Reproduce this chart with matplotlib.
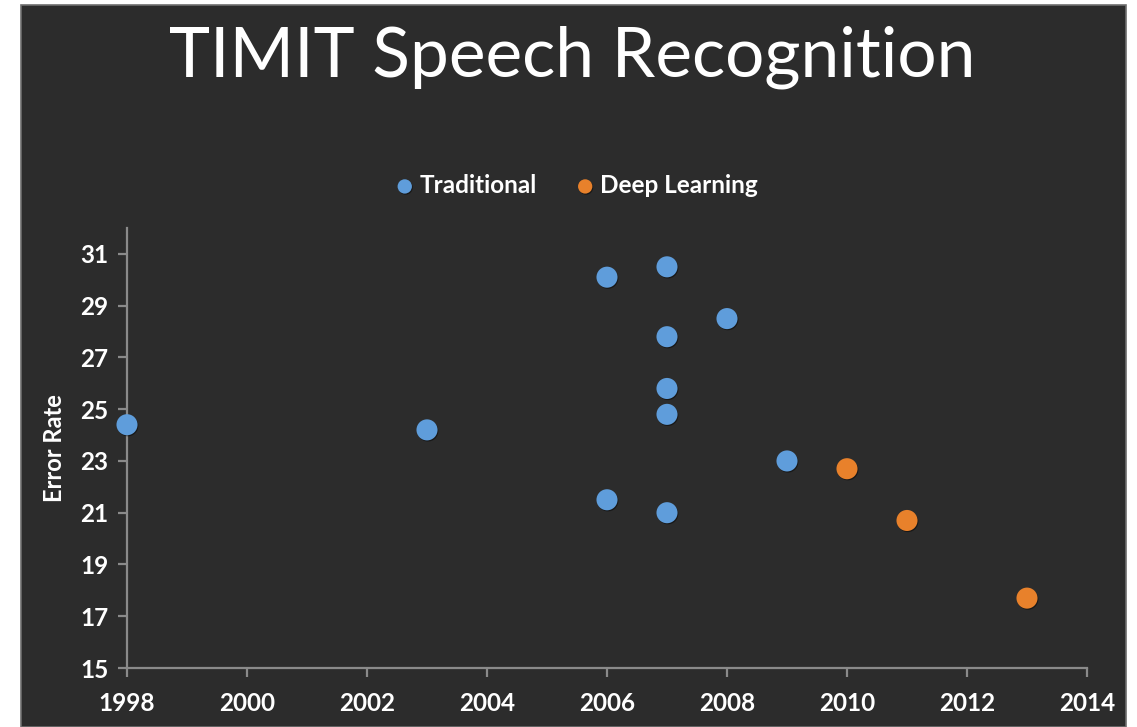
import matplotlib
matplotlib.use("Agg")
import matplotlib.pyplot as plt
import matplotlib.patches as patches
import matplotlib.patheffects as pe

# Error rate (%) on TIMIT by year
anos_trad = [1998, 2003, 2006, 2006, 2007, 2007, 2007, 2007, 2007, 2008, 2009]
erro_trad = [24.4, 24.2, 30.1, 21.5, 30.5, 27.8, 25.8, 24.8, 21.0, 28.5, 23.0]

anos_deep = [2010, 2011, 2013]
erro_deep = [22.7, 20.7, 17.7]

xticks = list(range(1998, 2015, 2))
yticks = list(range(15, 32, 2))

FUNDO = "#2c2c2c"
AZUL = "#5f9ddb"
LARANJA = "#e8812b"
EIXO = "#8a8a8a"
FONTE = ["Lato", "DejaVu Sans"]

fig = plt.figure(figsize=(11.37, 7.27), dpi=100)
fig.patch.set_facecolor("white")

# painel escuro com borda cinza (atrás dos eixos)
painel = patches.Rectangle((21 / 1137, 0), (1126 - 21) / 1137, (727 - 5) / 727,
                           transform=fig.transFigure, facecolor=FUNDO,
                           edgecolor="#6e6e6e", linewidth=1.2, zorder=-10)
fig.patches.append(painel)

fig.text(0.503, 0.921, "TIMIT Speech Recognition", color="white",
         fontsize=50, family=FONTE, ha="center", va="center")

ax = fig.add_axes([127 / 1137, 59 / 727, 960 / 1137, 440 / 727])
ax.set_facecolor("none")

sombra = [pe.SimplePatchShadow(offset=(0.6, -0.8), shadow_rgbFace="black", alpha=0.45), pe.Normal()]
ax.scatter(anos_trad, erro_trad, s=230, color=AZUL, edgecolors="none",
           label="Traditional", zorder=3, clip_on=False, path_effects=sombra)
ax.scatter(anos_deep, erro_deep, s=230, color=LARANJA, edgecolors="none",
           label="Deep Learning", zorder=3, clip_on=False, path_effects=sombra)

ax.set_xlim(1998, 2014)
ax.set_ylim(15, 32)
ax.set_xticks(xticks)
ax.set_yticks(yticks)

for s in ["top", "right"]:
    ax.spines[s].set_visible(False)
for s in ["left", "bottom"]:
    ax.spines[s].set_color(EIXO)
    ax.spines[s].set_linewidth(1.6)

ax.tick_params(axis="both", colors=EIXO, length=6.5, width=1.6, direction="out")
ax.tick_params(axis="x", pad=11)
ax.tick_params(axis="y", pad=7)
for lbl in ax.get_xticklabels() + ax.get_yticklabels():
    lbl.set_color("white")
    lbl.set_fontsize(17.5)
    lbl.set_fontweight("bold")
    lbl.set_family(FONTE)

ax.set_ylabel("Error Rate", color="white", fontsize=17, fontweight="bold",
              family=FONTE, labelpad=10)

leg = ax.legend(loc="center", bbox_to_anchor=(0.468, 1.097), ncol=2, frameon=False,
                markerscale=0.68, handlelength=0.8, handletextpad=0.2,
                columnspacing=1.6,
                prop={"family": FONTE, "weight": "bold", "size": 17.5})
for t in leg.get_texts():
    t.set_color("white")

plt.savefig("out.png", dpi=100, facecolor=fig.get_facecolor())
plt.close()
